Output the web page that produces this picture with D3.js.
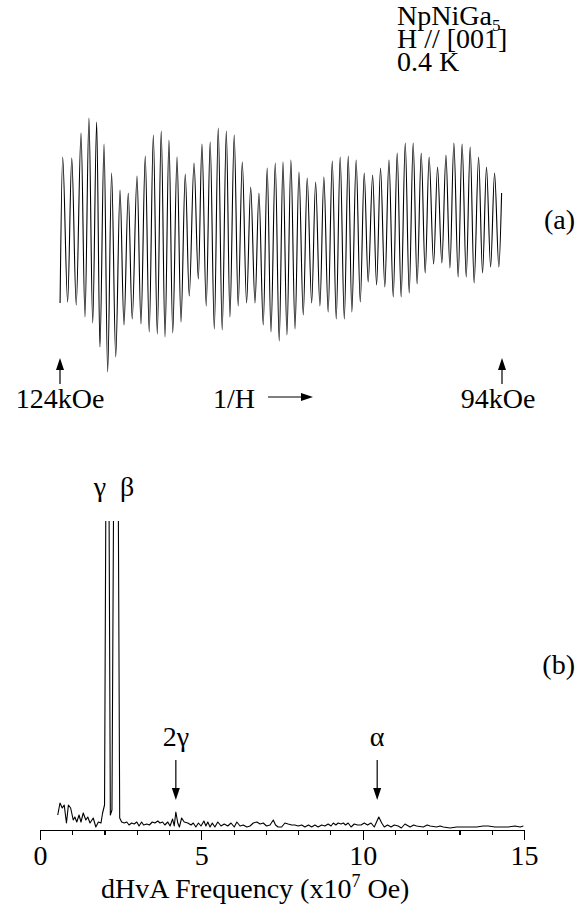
<!DOCTYPE html>
<meta charset="utf-8">
<head>
    <style>
        body { margin: 0; background: #fff; }
        svg text { font-family: "Liberation Serif", "Times New Roman", serif; fill: #000; font-size: 28px; }
        .trace { fill: none; stroke: #000; stroke-width: 1.1; stroke-linejoin: round; }
        .axis path, .axis line { stroke: #000; stroke-width: 1.2; shape-rendering: crispEdges; }
    </style>
    <script src="https://cdn.jsdelivr.net/npm/d3@7"></script>
</head>
<body>
<svg id="chart"></svg>
<script>
    // panel (a): extrema of the dHvA signal, 1/H in 10^-6 Oe^-1, signal in a.u.
    var invH = [8.065, 8.080, 8.109, 8.133, 8.159, 8.187, 8.210, 8.233, 8.255, 8.278,
        8.297, 8.321, 8.342, 8.365, 8.389, 8.414, 8.437, 8.462, 8.485, 8.513,
        8.536, 8.561, 8.584, 8.608, 8.631, 8.654, 8.676, 8.699, 8.721, 8.746,
        8.769, 8.794, 8.817, 8.845, 8.870, 8.891, 8.916, 8.939, 8.963, 8.986,
        9.009, 9.033, 9.054, 9.079, 9.102, 9.126, 9.151, 9.175, 9.200, 9.223,
        9.248, 9.271, 9.293, 9.318, 9.341, 9.363, 9.386, 9.409, 9.433, 9.456,
        9.481, 9.504, 9.530, 9.553, 9.578, 9.601, 9.626, 9.650, 9.673, 9.696,
        9.720, 9.743, 9.764, 9.789, 9.813, 9.836, 9.859, 9.885, 9.908, 9.931,
        9.956, 9.980, 10.005, 10.028, 10.051, 10.075, 10.098, 10.121, 10.144, 10.168,
        10.191, 10.214, 10.240, 10.263, 10.288, 10.312, 10.335, 10.358, 10.383, 10.406,
        10.430, 10.453, 10.476, 10.502, 10.525, 10.548, 10.572, 10.595, 10.620, 10.636];
    var signal = [-58, 88, -57, 87, -60, 112, -72, 127, -78, 123,
        -102, 101, -127, 72, -112, 55, -80, 52, -74, 69,
        -79, 89, -87, 110, -89, 114, -92, 105, -88, 88,
        -77, 71, -51, 82, -34, 101, -61, 103, -84, 117,
        -85, 114, -72, 110, -61, 83, -58, 58, -58, 52,
        -80, 77, -87, 82, -96, 83, -90, 85, -84, 73,
        -70, 67, -58, 63, -61, 68, -67, 84, -74, 88,
        -74, 89, -67, 85, -57, 72, -37, 70, -40, 77,
        -42, 85, -52, 92, -52, 102, -48, 102, -39, 92,
        -28, 88, -19, 78, -18, 90, -23, 102, -32, 101,
        -32, 98, -38, 88, -28, 78, -22, 72, -22, 52];
    var fieldMarks = [124, 94];   // kOe

    // panel (b): FFT spectrum, frequency in 10^7 Oe, amplitude in a.u.
    var freq = [0.55, 0.62, 0.69, 0.75, 0.82, 0.88, 0.95, 1.03, 1.08, 1.14,
        1.21, 1.27, 1.34, 1.42, 1.48, 1.55, 1.65, 1.73, 1.81, 1.89,
        1.94, 2.00, 2.05, 2.09, 2.13, 2.18, 2.23, 2.30, 2.355, 2.41,
        2.47, 2.53, 2.61, 2.69, 2.76, 2.84, 2.92, 3.00, 3.07, 3.15,
        3.21, 3.31, 3.39, 3.48, 3.56, 3.65, 3.72, 3.80, 3.87, 3.96,
        4.03, 4.11, 4.16, 4.21, 4.27, 4.32, 4.39, 4.47, 4.58, 4.68,
        4.75, 4.83, 4.91, 4.99, 5.08, 5.14, 5.20, 5.27, 5.34, 5.42,
        5.51, 5.61, 5.71, 5.82, 5.92, 6.02, 6.10, 6.20, 6.30, 6.41,
        6.51, 6.61, 6.72, 6.82, 6.92, 7.02, 7.13, 7.23, 7.30, 7.38,
        7.49, 7.59, 7.69, 7.80, 7.90, 8.00, 8.11, 8.21, 8.32, 8.42,
        8.52, 8.62, 8.73, 8.83, 8.93, 9.02, 9.09, 9.17, 9.24, 9.33,
        9.40, 9.47, 9.55, 9.64, 9.74, 9.84, 9.95, 10.05, 10.15, 10.26,
        10.36, 10.43, 10.50, 10.59, 10.67, 10.77, 10.88, 10.98, 11.10, 11.20,
        11.31, 11.47, 11.58, 11.67, 11.88, 12.00, 12.09, 12.29, 12.40, 12.50,
        12.71, 12.91, 13.12, 13.32, 13.53, 13.74, 13.89, 14.10, 14.31, 14.51,
        14.72, 14.88, 14.98];
    var amp = [15, 27, 22, 25, 7, 25, 22, 10, 13, 8,
        15, 8, 17, 10, 13, 7, 12, 3, 8, 7,
        17, 25, 400, 1000, 400, 15, 20, 450, 1000, 450,
        12, 8, 7, 8, 5, 7, 6, 8, 4, 8,
        5, 6, 5, 8, 7, 9, 7, 8, 5, 8,
        4, 11, 4, 18, 7, 3, 12, 8, 7, 5,
        7, 3, 7, 4, 9, 4, 8, 3, 7, 3,
        8, 4, 6, 4, 7, 3, 8, 4, 5, 3,
        4, 7, 8, 6, 7, 4, 5, 10, 5, 3,
        3, 7, 6, 5, 5, 4, 5, 3, 5, 3,
        5, 3, 5, 4, 6, 4, 7, 5, 7, 6,
        7, 5, 7, 3, 6, 5, 5, 7, 5, 7,
        3, 8, 13, 7, 3, 5, 3, 5, 4, 2,
        6, 3, 5, 4, 3, 5, 4, 3, 4, 3,
        2, 3, 3, 3, 3, 4, 4, 3, 3, 3,
        4, 3, 4];
    var peakLabels = [{t: "γ", f: 1.86, arrow: false}, {t: "β", f: 2.70, arrow: false},
        {t: "2γ", f: 4.21, arrow: true}, {t: "α", f: 10.45, arrow: true}];
    var majorTicks = [0, 5, 10, 15];

    var width = 577, height = 915;
    var svg = d3.select("#chart").attr("width", width).attr("height", height);
    svg.append("rect").attr("width", width).attr("height", height).attr("fill", "#fff");

    // ---------- panel (a)
    var xa = d3.scaleLinear().domain([1000 / 124, 1000 / 94]).range([60, 502]);
    var ya = d3.scaleLinear().domain([-127, 127]).range([372, 118]);

    var osc = invH.map(function(d, i) { return [d, signal[i]]; });
    svg.append("path")
        .datum(osc)
        .attr("class", "trace")
        .attr("d", d3.line()
            .x(function(d) { return xa(d[0]); })
            .y(function(d) { return ya(d[1]); })
            .curve(d3.curveMonotoneX));

    function arrowUp(x, yTip, yTail) {
        svg.append("line").attr("x1", x).attr("x2", x).attr("y1", yTip + 8).attr("y2", yTail)
            .attr("stroke", "#000").attr("stroke-width", 1.2);
        svg.append("path").attr("d", "M" + x + "," + yTip + "l-4,12h8z").attr("fill", "#000");
    }
    function arrowDown(x, yTail, yTip) {
        svg.append("line").attr("x1", x).attr("x2", x).attr("y1", yTail).attr("y2", yTip - 8)
            .attr("stroke", "#000").attr("stroke-width", 1.2);
        svg.append("path").attr("d", "M" + x + "," + yTip + "l-4,-12h8z").attr("fill", "#000");
    }

    fieldMarks.forEach(function(h, i) {
        arrowUp(xa(1000 / h), 358, 384);
        svg.append("text").attr("x", xa(1000 / h) + (i === 0 ? 0 : -4)).attr("y", 408)
            .attr("text-anchor", "middle").text(h + "kOe");
    });
    svg.append("text").attr("x", 213).attr("y", 408).text("1/H");
    svg.append("line").attr("x1", 268).attr("x2", 304).attr("y1", 397).attr("y2", 397)
        .attr("stroke", "#000").attr("stroke-width", 1.2);
    svg.append("path").attr("d", "M313,397l-12,-4v8z").attr("fill", "#000");

    var info = svg.append("g").style("font-size", "26px");
    var t1 = info.append("text").attr("x", 397).attr("y", 25);
    t1.append("tspan").text("NpNiGa");
    t1.append("tspan").attr("dy", 6).style("font-size", "17px").text("5");
    info.append("text").attr("x", 397).attr("y", 48).text("H // [001]");
    info.append("text").attr("x", 397).attr("y", 71).text("0.4 K");

    svg.append("text").attr("x", 575).attr("y", 229).attr("text-anchor", "end").text("(a)");
    svg.append("text").attr("x", 575).attr("y", 674).attr("text-anchor", "end").text("(b)");

    // ---------- panel (b)
    var xb = d3.scaleLinear().domain([0, 15]).range([40, 524]);
    var yb = d3.scaleLinear().domain([0, 309]).range([830, 521]);

    svg.append("clipPath").attr("id", "clipb")
        .append("rect").attr("x", 30).attr("y", 521).attr("width", 510).attr("height", 310);

    var spec = freq.map(function(d, i) { return [d, amp[i]]; });
    svg.append("path")
        .datum(spec)
        .attr("class", "trace")
        .attr("clip-path", "url(#clipb)")
        .attr("d", d3.line()
            .x(function(d) { return xb(d[0]); })
            .y(function(d) { return yb(d[1]); }));

    svg.append("g").attr("class", "axis")
        .attr("transform", "translate(0,830)")
        .call(d3.axisBottom(xb).tickValues(d3.range(0, 16)).tickSize(5).tickSizeOuter(0).tickFormat(""));
    var ax = svg.append("g").attr("class", "axis")
        .attr("transform", "translate(0,830)")
        .call(d3.axisBottom(xb).tickValues(majorTicks).tickSize(10).tickSizeOuter(0).tickPadding(5));
    ax.selectAll("text").style("font-size", "28px").style("font-family", "Liberation Serif");

    var title = svg.append("text").attr("x", 101).attr("y", 898);
    title.append("tspan").text("dHvA Frequency (x10");
    title.append("tspan").attr("dy", -11).style("font-size", "18px").text("7");
    title.append("tspan").attr("dy", 11).text(" Oe)");

    peakLabels.forEach(function(p) {
        if (p.arrow) {
            arrowDown(xb(p.f), 760, 800);
            svg.append("text").attr("x", xb(p.f)).attr("y", 746)
                .attr("text-anchor", "middle").text(p.t);
        } else {
            svg.append("text").attr("x", xb(p.f)).attr("y", 496)
                .attr("text-anchor", "middle").text(p.t);
        }
    });
</script>
</body>
